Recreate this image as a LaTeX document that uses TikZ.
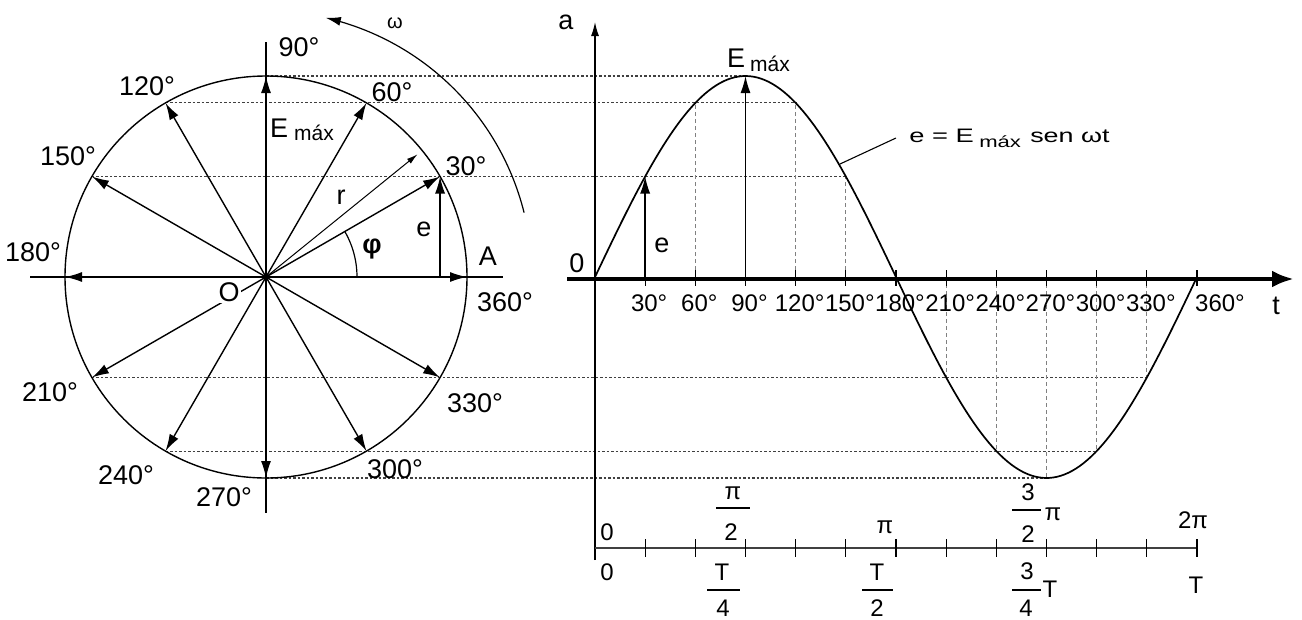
\documentclass[tikz,border=0pt]{standalone}
\usepackage{fontspec}
\setmainfont{Liberation Sans}
\usetikzlibrary{arrows.meta,calc}
\begin{document}
\begin{tikzpicture}[x=1pt,y=-1pt,
  line join=round,
  lbl/.style={inner sep=0pt, font=\fontsize{27}{29}\selectfont},
  albl/.style={inner sep=0pt, font=\fontsize{24}{26}\selectfont},
  sublbl/.style={inner sep=0pt, font=\fontsize{21}{22}\selectfont},
  eqlbl/.style={inner sep=0pt, anchor=west, transform shape, font=\fontsize{19.5}{21}\selectfont},
  vec/.style={line width=1.4pt, -{Latex[length=17pt,width=10pt]}},
  thinvec/.style={line width=1pt, -{Latex[length=11pt,width=6pt]}},
  hdot/.style={line width=1.1pt, black!75, dash pattern=on 2.5pt off 2pt},
  vdash/.style={line width=0.9pt, black!50, dash pattern=on 4pt off 3pt},
  fracbar/.style={line width=1.3pt},
  tick/.style={line width=1.2pt},
]
\useasboundingbox (0,0) rectangle (1302,619);
\def\R{201}
\def\K{1.672222}
\coordinate (O) at (266,277);
\foreach \a in {0,30,...,360} {
  \coordinate (P\a) at ({266+\R*cos(\a)},{277-\R*sin(\a)});
  \coordinate (G\a) at ({595+\a*\K},{277-\R*sin(\a)});
  \coordinate (B\a) at ({595+\a*\K},277);
  \coordinate (L\a) at ({595+\a*\K},548);
}
% ---------- horizontal dotted projection lines
\draw[hdot] (P90) -- (G90);
\draw[hdot] (P120) -- (G120);
\draw[hdot] (P150) -- (G150);
\draw[hdot] (P210) -- (G330);
\draw[hdot] (P240) -- (G300);
\draw[hdot] (P270) -- (G270);
% ---------- circle
\draw[line width=1.4pt] (O) circle[radius=\R];
\coordinate (HL) at (30,277);
\coordinate (HR) at (503,277);
\coordinate (VT) at (266,42);
\coordinate (VB) at (266,513);
\draw[line width=1.4pt] (HL) -- (HR);
\draw[line width=1.4pt] (VT) -- (VB);
\foreach \a in {0,30,...,330} { \draw[vec] (O) -- (P\a); }
\coordinate (E0) at (P30 |- O);
\draw[vec] (E0) -- (P30);
\coordinate (Rend) at ({266+195*cos(39)},{277-195*sin(39)});
\draw[thinvec] (O) -- (Rend);
\draw[line width=1.2pt] plot[domain=0:30,samples=30] ({266+91*cos(\x)},{277-91*sin(\x)});
\draw[line width=1.2pt, -{Latex[length=15pt,width=9pt]}] plot[domain=14:77,samples=60] ({266+266*cos(\x)},{277-266*sin(\x)});
\fill (O) circle[radius=3];
% circle labels
\node[lbl] (l90) at (299,47) {90°};
\node[lbl] (l120) at (147,86) {120°};
\node[lbl] (l60) at (392,92) {60°};
\node[lbl] (l150) at (68,156) {150°};
\node[lbl] (l30) at (466,166) {30°};
\node[lbl] (l180) at (33,252) {180°};
\node[lbl] (lA) at (488,256) {A};
\node[lbl] (l360) at (505,302) {360°};
\node[lbl, fill=white, inner sep=1.5pt] (lO) at (229,292) {O};
\node[lbl] (l210) at (50,392) {210°};
\node[lbl] (l330) at (475,403) {330°};
\node[lbl] (l240) at (126,475) {240°};
\node[lbl] (l300) at (395,469) {300°};
\node[lbl] (l270) at (224,497) {270°};
\node[lbl, anchor=west] (lE) at (270,128) {E};
\node[sublbl, anchor=west] (lEs) at (294,133) {máx};
\node[lbl] (lr) at (341,197) {r};
\node[lbl] (le) at (424,229) {e};
\node[lbl, font=\fontsize{27}{29}\selectfont\bfseries] (lphi) at (372,249) {φ};
\node[inner sep=0pt, font=\fontsize{20}{22}\selectfont] (lw) at (395,23) {ω};
% ---------- graph
\foreach \a in {60,120,150,210,240,270,300,330} { \draw[vdash] (B\a) -- (G\a); }
\draw[line width=1.7pt] plot[domain=0:360,samples=160] ({595+\x*\K},{277-\R*sin(\x)});
\coordinate (YB) at (595,560);
\coordinate (YT) at (595,22);
\draw[line width=1.3pt, -{Latex[length=14pt,width=8pt]}] (YB) -- (YT);
\coordinate (TL) at (567,279);
\coordinate (TR) at (1294,279);
\draw[line width=4.5pt, -{Latex[length=22pt,width=17pt]}] (TL) -- (TR);
\foreach \a in {30,60,...,360} { \draw[tick] ($(B\a)+(0,-7)$) -- ($(B\a)+(0,9)$); }
\draw[vec] (B30) -- (G30);
\draw[vec] (B90) -- (G90);
\node[lbl] (ga) at (566,22) {a};
\node[lbl] (g0) at (577,263) {0};
\node[lbl] (gt) at (1276,306) {t};
\node[lbl] (ge) at (662,245) {e};
\node[lbl, anchor=west] (gE) at (727,58) {E};
\node[sublbl, anchor=west] (gEs) at (750,64) {máx};
\begin{scope}[shift={(909,136)}, xscale=1.4]
  \node[eqlbl] (eq1) at (0,0) {e = E};
\end{scope}
\begin{scope}[shift={(979,142)}, xscale=1.38]
  \node[eqlbl, font=\fontsize{16}{18}\selectfont] (eq2) at (0,0) {máx};
\end{scope}
\begin{scope}[shift={(1030,136)}, xscale=1.38]
  \node[eqlbl] (eq3) at (0,0) {sen ωt};
\end{scope}
\coordinate (LdA) at (840,164);
\coordinate (LdB) at (896,138);
\draw[line width=1.1pt] (LdA) -- (LdB);
\foreach \a/\t in {30/30°,60/60°,90/90°,120/120°,150/150°,180/180°,210/210°,240/240°,270/270°,300/300°,330/330°} {
  \node[albl] (d\a) at ($(B\a)+(4,26)$) {\t};
}
\node[albl] (d360) at (1220,303) {360°};
% ---------- lower axis
\draw[line width=1.3pt, black!75] (L0) -- (L360);
\foreach \a in {30,60,...,360} { \draw[tick] ($(L\a)+(0,-9)$) -- ($(L\a)+(0,9)$); }
\node[albl] (u0) at (607,532) {0};
\node[albl] (upi2n) at (733,493) {π};
\draw[fracbar] (716,508) -- (750,508);
\node[albl] (upi2d) at (731,532) {2};
\node[albl] (upi) at (885,527) {π};
\node[albl] (u32n) at (1028,492) {3};
\draw[fracbar] (1012,510) -- (1041,510);
\node[albl] (u32d) at (1028,534) {2};
\node[albl] (u32p) at (1053,514) {π};
\node[albl] (u2pi) at (1193,520) {2π};
\node[albl] (b0) at (607,572) {0};
\node[albl] (bT4n) at (722,572) {T};
\draw[fracbar] (707,590) -- (740,590);
\node[albl] (bT4d) at (723,608) {4};
\node[albl] (bT2n) at (877,572) {T};
\draw[fracbar] (862,590) -- (893,590);
\node[albl] (bT2d) at (877,608) {2};
\node[albl] (b34n) at (1027,571) {3};
\draw[fracbar] (1012,590) -- (1041,590);
\node[albl] (b34d) at (1026,608) {4};
\node[albl] (b34T) at (1050,589) {T};
\node[albl] (bT) at (1196,585) {T};
\end{tikzpicture}
\end{document}
